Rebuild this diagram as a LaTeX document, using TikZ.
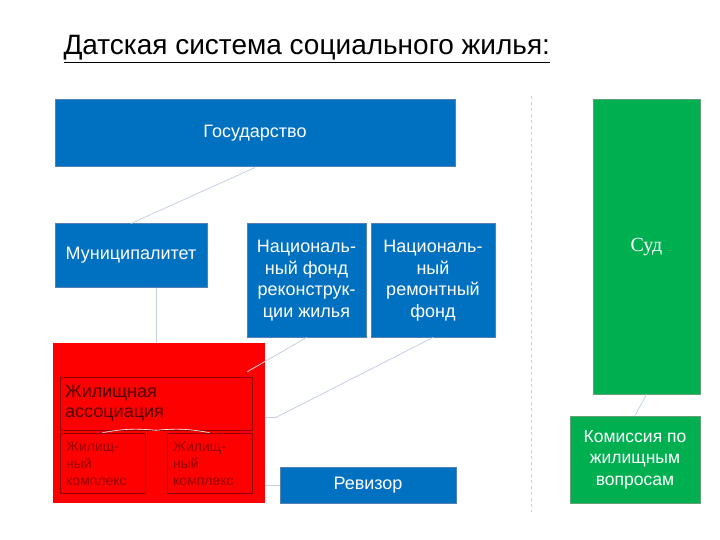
\documentclass[tikz,border=0pt]{standalone}
\usepackage{fontspec}
\setmainfont{Liberation Sans}
\newfontfamily\sudfont{Liberation Serif}
\usepackage{tikz}
\usetikzlibrary{calc}

\definecolor{boxblue}{RGB}{0,112,192}
\definecolor{boxblueline}{RGB}{84,130,180}
\definecolor{boxgreen}{RGB}{0,176,80}
\definecolor{boxgreenline}{RGB}{100,160,120}
\definecolor{linkgrey}{RGB}{196,208,226}
\definecolor{assoctext}{RGB}{80,0,0}
\definecolor{cplxtext}{RGB}{150,0,0}

\begin{document}
\begin{tikzpicture}[x=1pt, y=-1pt,
  bluebox/.style={draw=boxblueline, line width=1pt, fill=boxblue,
    text=white, inner sep=0pt, align=center,
    font=\fontsize{18}{21.5}\selectfont},
  greenbox/.style={draw=boxgreenline, line width=1pt, fill=boxgreen,
    text=white, inner sep=0pt, align=center,
    font=\fontsize{17.5}{21.5}\selectfont},
  innerbox/.style={draw=red!55!black, line width=0.6pt, inner sep=0pt},
  link/.style={draw=linkgrey, line width=0.8pt},
]
\useasboundingbox (0,0) rectangle (720,540);

\node[anchor=base west, font=\fontsize{28}{32}\selectfont] (title) at (60,55)
  {\underline{Датская система социального жилья:}};

% left-hand side
\node[bluebox, minimum width=400, minimum height=67] (gov) at (255,133.5) {Государство};
\node[bluebox, minimum width=152, minimum height=63] (mun) at (131,255.5) {Муниципалитет};
\node[bluebox, minimum width=119, minimum height=113] (nfr) at (306.5,280.5)
  {Националь-\\ный фонд\\реконструк-\\ции жилья};
\node[bluebox, minimum width=124, minimum height=113] (nrf) at (433,280.5)
  {Националь-\\ный\\ремонтный\\фонд};
\node[bluebox, minimum width=176, minimum height=36] (rev) at (368,485) {Ревизор};

\draw[link] (gov.south) -- (mun.north);
\draw[link] (nrf.south) -- ($(nrf.south)!0.93!(265,423)$) coordinate (nrfend);

\node[fill=red, minimum width=212, minimum height=160, inner sep=0pt] (assocbg) at (159,423) {};
\node[innerbox, minimum width=192, minimum height=53] (assoc) at (156,403.5) {};
\node[anchor=west, text=assoctext, align=left, inner sep=0pt,
  font=\fontsize{18}{20}\selectfont] (assoctxt) at (65,403.5)
  {Жилищная\\ассоциация};
\node[innerbox, minimum width=85, minimum height=60] (cplxA) at (102.5,463) {};
\node[innerbox, minimum width=85, minimum height=60] (cplxB) at (209.5,463) {};
\node[anchor=west, text=cplxtext, align=left, inner sep=0pt,
  font=\fontsize{14}{17}\selectfont] (cplxAtxt) at (66,464)
  {Жилищ-\\ный\\комплекс};
\node[anchor=west, text=cplxtext, align=left, inner sep=0pt,
  font=\fontsize{14}{17}\selectfont] (cplxBtxt) at (173,464)
  {Жилищ-\\ный\\комплекс};

\draw[link] (mun.south -| assoc.north) -- (assocbg.north -| assoc.north);
\draw[link] (nrfend) -- (assocbg.east |- nrfend);
\draw[link] (nfr.south) -- ($(assoc.north east)+(-5,-5)$);
\draw[link] (rev.west) -- (rev.west -| assocbg.east);
\draw[white, line width=0.6pt] (cplxA.north) to[bend left=8] (assoc.south);
\draw[white, line width=0.6pt] (assoc.south) to[bend left=8] (cplxB.north);

% right-hand side
\draw[linkgrey, dashed, line width=0.8pt] (531,96) -- (531,512);
\node[greenbox, minimum width=107, minimum height=294,
  font=\sudfont\fontsize{20}{24}\selectfont] (sud) at (646.5,247) {Суд};
\node[greenbox, minimum width=130, minimum height=87] (kom) at (635,459.5)
  {Комиссия по\\жилищным\\вопросам};
\draw[link] (sud.south) -- (kom.north);
\end{tikzpicture}
\end{document}
